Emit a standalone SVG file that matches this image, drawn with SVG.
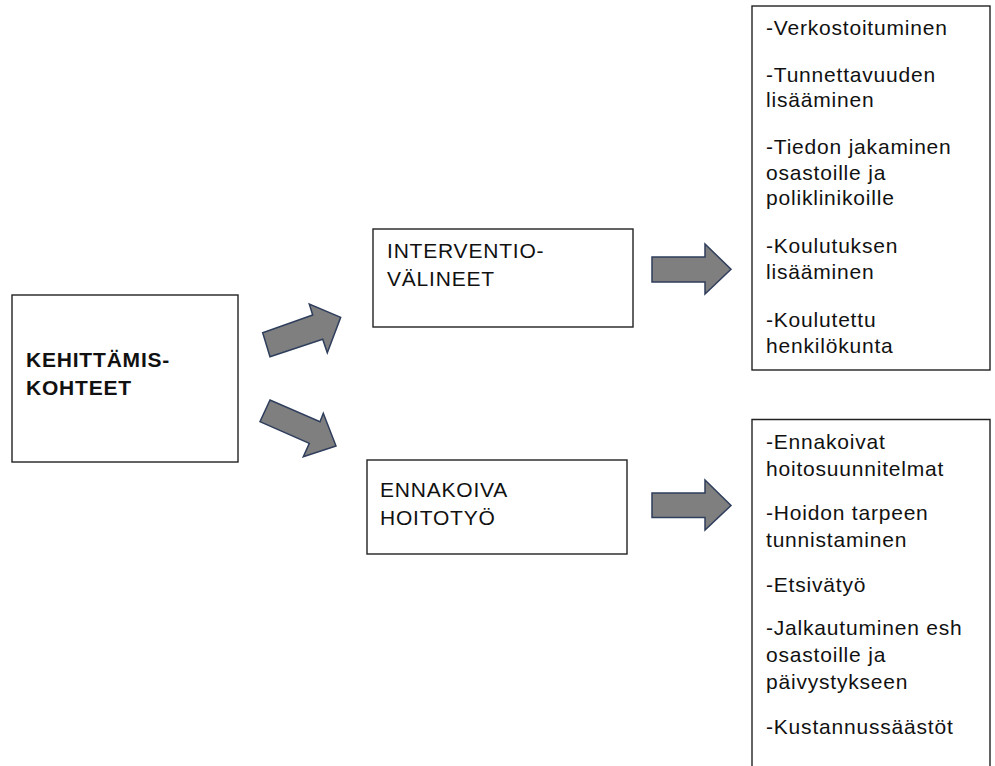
<svg xmlns="http://www.w3.org/2000/svg" width="995" height="766" viewBox="0 0 995 766">
<style>
.box{fill:#fff;stroke:#222;stroke-width:1.4}
.t{font-family:"Liberation Sans",Arial,sans-serif;font-size:21px;fill:#111;letter-spacing:0.8px}
.b{font-weight:bold;letter-spacing:0.8px}
.arr{fill:#7f7f7f;stroke:#2f3e5c;stroke-width:1.5;stroke-linejoin:miter}
</style>
<rect width="995" height="766" fill="#fff"/>
<g id="connectors">
<polygon class="arr" points="262.7,332.7 270,356.7 322.7,339.3 327.3,352.7 340.7,317.3 309.3,304 312.7,315"/>
<polygon class="arr" points="270,400 260,421.7 309.3,443.3 303.3,456.7 336,446 323.3,413.3 320,421.7"/>
<polygon class="arr" points="652,257 705,257 705,244 731,269.3 705,294 705,282 652,282"/>
<polygon class="arr" points="652,493 705,493 705,480 731,505.5 705,530 705,517.5 652,517.5"/>
</g>
<g id="kehittamis">
<rect class="box" x="12" y="295" width="226" height="167"/>
<text class="t b" x="26" y="367">KEHITTÄMIS-</text>
<text class="t b" x="26" y="395">KOHTEET</text>
</g>
<g id="interventio">
<rect class="box" x="373" y="229" width="260" height="98"/>
<text class="t" x="387" y="258">INTERVENTIO-</text>
<text class="t" x="387" y="286">VÄLINEET</text>
</g>
<g id="ennakoiva">
<rect class="box" x="367" y="460" width="260" height="94"/>
<text class="t" x="380" y="497">ENNAKOIVA</text>
<text class="t" x="380" y="525">HOITOTYÖ</text>
</g>
<g id="interventio-list">
<rect class="box" x="752" y="6" width="238" height="364"/>
<text class="t" x="766" y="35">-Verkostoituminen</text>
<text class="t" x="766" y="82">-Tunnettavuuden</text>
<text class="t" x="766" y="107">lisääminen</text>
<text class="t" x="766" y="154">-Tiedon jakaminen</text>
<text class="t" x="766" y="180">osastoille ja</text>
<text class="t" x="766" y="205">poliklinikoille</text>
<text class="t" x="766" y="253">-Koulutuksen</text>
<text class="t" x="766" y="279">lisääminen</text>
<text class="t" x="766" y="327">-Koulutettu</text>
<text class="t" x="766" y="353">henkilökunta</text>
</g>
<g id="ennakoiva-list">
<path class="box" d="M752,790 V419.5 H990 V790"/>
<text class="t" x="766" y="449">-Ennakoivat</text>
<text class="t" x="766" y="476">hoitosuunnitelmat</text>
<text class="t" x="766" y="520">-Hoidon tarpeen</text>
<text class="t" x="766" y="547">tunnistaminen</text>
<text class="t" x="766" y="592">-Etsivätyö</text>
<text class="t" x="766" y="635">-Jalkautuminen esh</text>
<text class="t" x="766" y="662">osastoille ja</text>
<text class="t" x="766" y="689">päivystykseen</text>
<text class="t" x="766" y="734">-Kustannussäästöt</text>
</g>
</svg>
